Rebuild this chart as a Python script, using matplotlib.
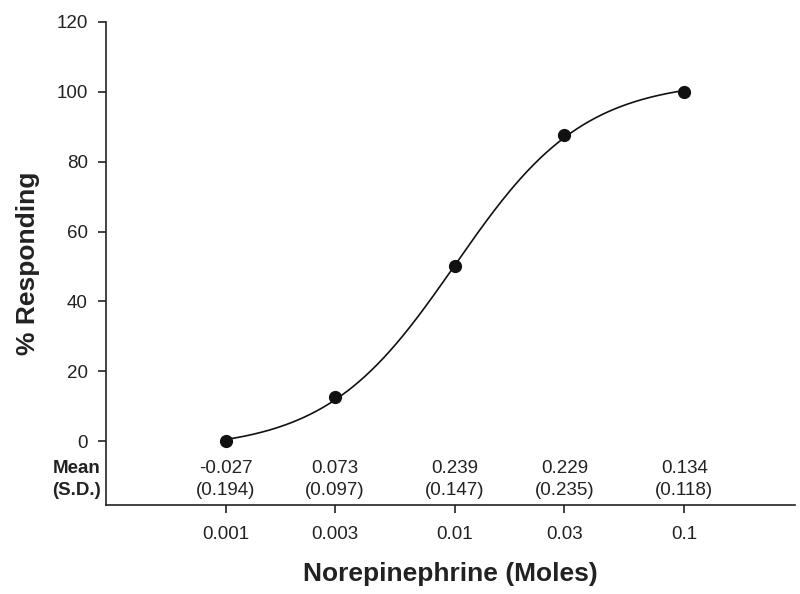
import numpy as np
import matplotlib
matplotlib.use('Agg')
import matplotlib.pyplot as plt

plt.rcParams['font.family'] = ['Liberation Sans', 'DejaVu Sans']

# data
dose = [0.001, 0.003, 0.01, 0.03, 0.1]
dose_labels = ['0.001', '0.003', '0.01', '0.03', '0.1']
pct_responding = [0, 12.5, 50, 87.5, 100]
means = ['-0.027', '0.073', '0.239', '0.229', '0.134']
sds = ['(0.194)', '(0.097)', '(0.147)', '(0.235)', '(0.118)']


# 4 parameter logistic fit: grid over ec50/hill, linear solve for bottom/top
def fit_logistic(x, y):
    lx = np.log10(x)
    y = np.asarray(y, float)
    best = None
    for lec in np.linspace(lx.min(), lx.max(), 301):
        for hill in np.linspace(0.3, 5, 236):
            s = 1.0 / (1.0 + 10 ** ((lec - lx) * hill))
            A = np.column_stack([1 - s, s])
            coef, *_ = np.linalg.lstsq(A, y, rcond=None)
            sse = np.sum((A @ coef - y) ** 2)
            if best is None or sse < best[0]:
                best = (sse, lec, hill, coef[0], coef[1])
    return best[1:]


lec, hill, bot, top = fit_logistic(np.array(dose), pct_responding)
xs = np.logspace(np.log10(dose[0]), np.log10(dose[-1]), 300)
ys = bot + (top - bot) / (1 + 10 ** ((lec - np.log10(xs)) * hill))

fig = plt.figure(figsize=(8, 5.94), dpi=100)
ax = fig.add_axes([0.1325, 0.1498, 0.8615, 0.8132])

ax.plot(xs, ys, color='#111111', lw=1.2, zorder=2)
ax.plot(dose, pct_responding, 'o', color='#111111', ms=8.5, zorder=3)

ax.set_xscale('log')
ax.set_xlim(0.0003, 0.305)
ax.set_ylim(-18.3, 120)

ax.spines['top'].set_visible(False)
ax.spines['right'].set_visible(False)
for sp in ['left', 'bottom']:
    ax.spines[sp].set_linewidth(1.2)
    ax.spines[sp].set_color('#222222')

ax.set_yticks(range(0, 121, 20))
ax.set_xticks(dose)
ax.set_xticklabels(dose_labels)
ax.minorticks_off()
ax.tick_params(axis='both', direction='out', length=6, width=1.2,
               colors='#222222', labelsize=13.5, pad=7)
ax.tick_params(axis='x', pad=9)

fs = 13.5
for xd, m, s in zip(dose, means, sds):
    ax.text(xd, -7.9, m, ha='center', va='center', fontsize=fs, color='#222222')
    ax.text(xd, -14.0, s, ha='center', va='center', fontsize=fs, color='#222222')

lab_tr = ax.get_yaxis_transform()
ax.text(-0.008, -7.9, 'Mean', transform=lab_tr, ha='right', va='center',
        fontsize=fs, fontweight='bold', color='#222222')
ax.text(-0.008, -14.0, '(S.D.)', transform=lab_tr, ha='right', va='center',
        fontsize=fs, fontweight='bold', color='#222222')

ax.set_xlabel('Norepinephrine (Moles)', fontsize=19, fontweight='bold',
              color='#222222', labelpad=14)
ax.set_ylabel('% Responding', fontsize=19, fontweight='bold',
              color='#222222', labelpad=12)

fig.savefig('out.png', dpi=100)
